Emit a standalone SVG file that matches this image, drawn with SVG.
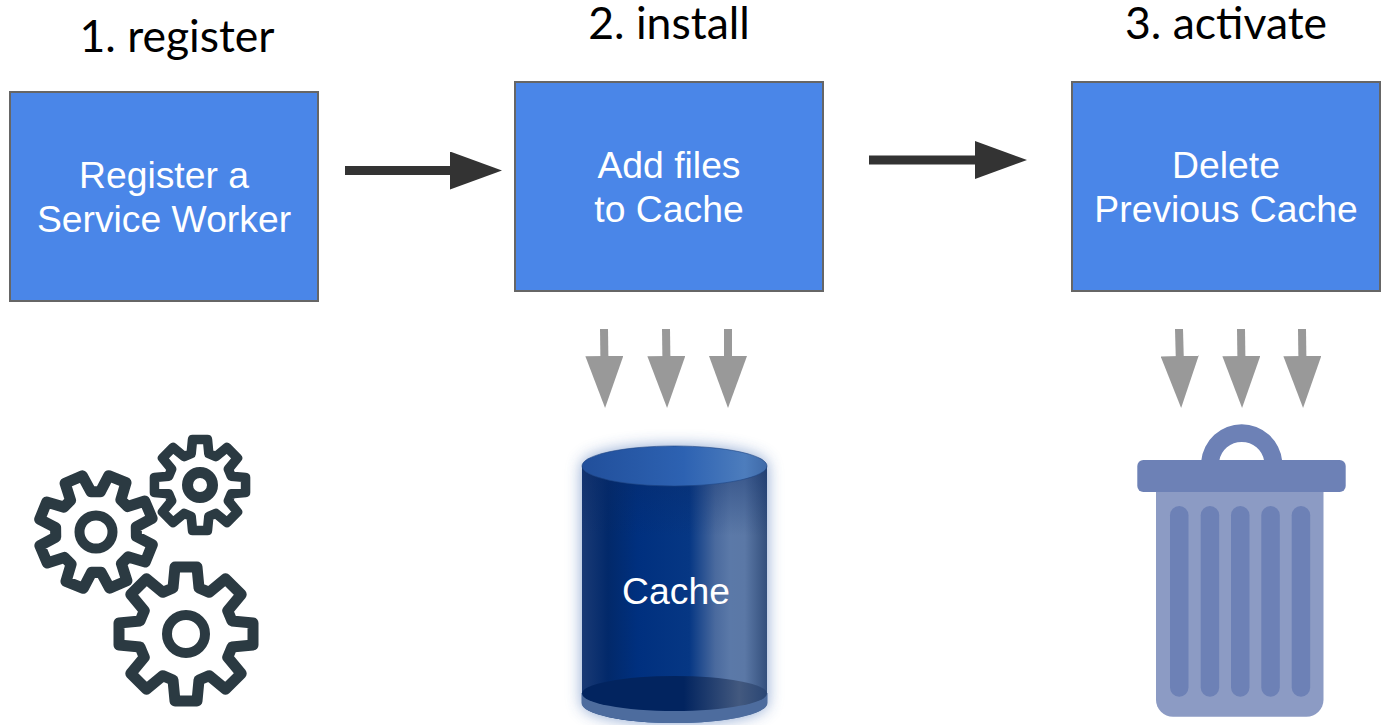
<svg xmlns="http://www.w3.org/2000/svg" xmlns:xlink="http://www.w3.org/1999/xlink" width="1383" height="725" viewBox="0 0 1383 725">
<style>
.box{fill:#4a86e8;stroke:#666;stroke-width:2}
.lbl{font-family:"Liberation Sans",Arial,sans-serif;font-size:37.3px;fill:#fff;text-anchor:middle}
.ttl{font-family:Lato,"Liberation Sans",sans-serif;font-size:44.5px;fill:#000;text-anchor:middle}
.dark{stroke:#333;stroke-width:9;fill:none;marker-end:url(#mDark)}
.grey{stroke:#999;stroke-width:8;fill:none;marker-end:url(#mGrey)}
.gear{fill:none;stroke:#2b3a42;stroke-linejoin:round}
.slat{fill:#6d81b6}
</style>
<defs>
<marker id="mDark" markerUnits="userSpaceOnUse" markerWidth="52" markerHeight="38" viewBox="0 0 52 38" refX="10" refY="19" orient="auto"><path d="M0 0L52 19L0 38Z" fill="#333"/></marker>
<marker id="mGrey" markerUnits="userSpaceOnUse" markerWidth="52" markerHeight="38" viewBox="0 0 52 38" refX="10" refY="19" orient="auto"><path d="M0 0L52 19L0 38Z" fill="#999"/></marker>
<path id="gearShape" d="M46-13L67-11L67 11L46 13L41.700 23.300L55.200 39.600L39.600 55.200L23.300 41.700L13 46L11 67L-11 67L-13 46L-23.300 41.700L-39.600 55.200L-55.200 39.600L-41.700 23.300L-46 13L-67 11L-67-11L-46-13L-41.700-23.300L-55.200-39.600L-39.600-55.200L-23.300-41.700L-13-46L-11-67L11-67L13-46L23.300-41.700L39.600-55.200L55.200-39.600L41.700-23.300Z"/>
<linearGradient id="cylBody" x1="0" x2="1" y1="0" y2="0">
<stop offset="0" stop-color="#1a3a75"/><stop offset=".14" stop-color="#02296a"/><stop offset=".3" stop-color="#00307f"/><stop offset=".58" stop-color="#063784"/><stop offset=".72" stop-color="#4a6a9e"/><stop offset=".8" stop-color="#5b79a8"/><stop offset=".88" stop-color="#5b78a6"/><stop offset="1" stop-color="#334f7c"/>
</linearGradient>
<linearGradient id="cylTop" x1="0" x2="1" y1="0" y2="0">
<stop offset="0" stop-color="#214f9b"/><stop offset=".55" stop-color="#2d62b2"/><stop offset=".88" stop-color="#4d7dbd"/><stop offset="1" stop-color="#3f6aa8"/>
</linearGradient>
<linearGradient id="cylBase" x1="0" x2="1" y1="0" y2="0">
<stop offset="0" stop-color="#02245f"/><stop offset=".55" stop-color="#02245f"/><stop offset=".85" stop-color="#43597f"/><stop offset="1" stop-color="#2a4674"/>
</linearGradient>
<linearGradient id="cylShade" x1="0" x2="0" y1="0" y2="1">
<stop offset="0" stop-color="#0a2a66" stop-opacity=".45"/><stop offset="1" stop-color="#0a2a66" stop-opacity="0"/>
</linearGradient>
<filter id="glow" x="-25%" y="-25%" width="150%" height="150%"><feGaussianBlur stdDeviation="8"/></filter>
</defs>

<g id="titles">
<text class="ttl" x="177" y="52">1. register</text>
<text class="ttl" x="669" y="39">2. install</text>
<text class="ttl" x="1226" y="39">3. activate</text>
</g>

<g id="node-register">
<rect class="box" x="10" y="92" width="308" height="209"/>
<text class="lbl" x="164" y="188">Register a</text>
<text class="lbl" x="164" y="232">Service Worker</text>
</g>
<g id="node-install">
<rect class="box" x="515" y="82" width="308" height="209"/>
<text class="lbl" x="669" y="178">Add files</text>
<text class="lbl" x="669" y="222">to Cache</text>
</g>
<g id="node-activate">
<rect class="box" x="1072" y="82" width="308" height="209"/>
<text class="lbl" x="1226" y="178">Delete</text>
<text class="lbl" x="1226" y="222">Previous Cache</text>
</g>

<g id="connectors">
<line class="dark" x1="345" y1="170.500" x2="460" y2="170.500"/>
<line class="dark" x1="869" y1="160" x2="985" y2="160"/>
<line class="grey" x1="604" y1="329" x2="604.500" y2="366"/>
<line class="grey" x1="666" y1="329" x2="666.500" y2="366"/>
<line class="grey" x1="728" y1="329" x2="728" y2="366"/>
<line class="grey" x1="1179" y1="329" x2="1180" y2="366"/>
<line class="grey" x1="1241" y1="329" x2="1241.500" y2="366"/>
<line class="grey" x1="1302" y1="329" x2="1302.500" y2="366"/>
</g>

<g id="node-gears">
<g transform="translate(186 634)"><use href="#gearShape" class="gear" stroke-width="11"/><circle class="gear" r="19" stroke-width="10"/></g>
<g transform="translate(96 532) rotate(22) scale(.85)"><use href="#gearShape" class="gear" stroke-width="13"/></g>
<circle class="gear" cx="96" cy="532" r="16.500" stroke-width="10"/>
<g transform="translate(200 485) scale(.68)"><use href="#gearShape" class="gear" stroke-width="14"/></g>
<circle class="gear" cx="200" cy="485" r="12.500" stroke-width="11"/>
</g>

<g id="node-cache">
<g filter="url(#glow)" opacity=".6"><path d="M582 466A92 20 0 0 1 767 466V703A92 20 0 0 1 582 703Z" fill="#3a66b0"/></g>
<path d="M582 466V703A92.500 20 0 0 0 767 703V466Z" fill="url(#cylBody)"/>
<rect x="582" y="466" width="185" height="70" fill="url(#cylShade)"/>
<path d="M581.500 693V703A92.500 20 0 0 0 767.500 703V693Z" fill="#4d6c9e"/>
<ellipse cx="674.500" cy="693.500" rx="92.500" ry="17.500" fill="url(#cylBase)"/>
<ellipse cx="674.500" cy="466" rx="92.500" ry="20" fill="url(#cylTop)" stroke="#1e4483" stroke-width=".6"/>
<text class="lbl" x="676" y="604">Cache</text>
</g>

<g id="node-trash">
<path d="M1156 492H1323.500V699.700A17 17 0 0 1 1306.500 716.700H1173A17 17 0 0 1 1156 699.700Z" fill="#8c9bc4"/>
<rect class="slat" x="1170" y="506" width="18.500" height="190.700" rx="9.200"/>
<rect class="slat" x="1200.700" y="506" width="18.500" height="190.700" rx="9.200"/>
<rect class="slat" x="1231" y="506" width="18.500" height="190.700" rx="9.200"/>
<rect class="slat" x="1261.300" y="506" width="18.500" height="190.700" rx="9.200"/>
<rect class="slat" x="1291.700" y="506" width="18.500" height="190.700" rx="9.200"/>
<rect class="slat" x="1137.300" y="460" width="208.400" height="32" rx="6"/>
<path class="slat" d="M1201.200 461A40.700 40.700 0 0 1 1282.200 461H1264.200A22.800 22.800 0 0 0 1219.200 461Z"/>
</g>
</svg>
